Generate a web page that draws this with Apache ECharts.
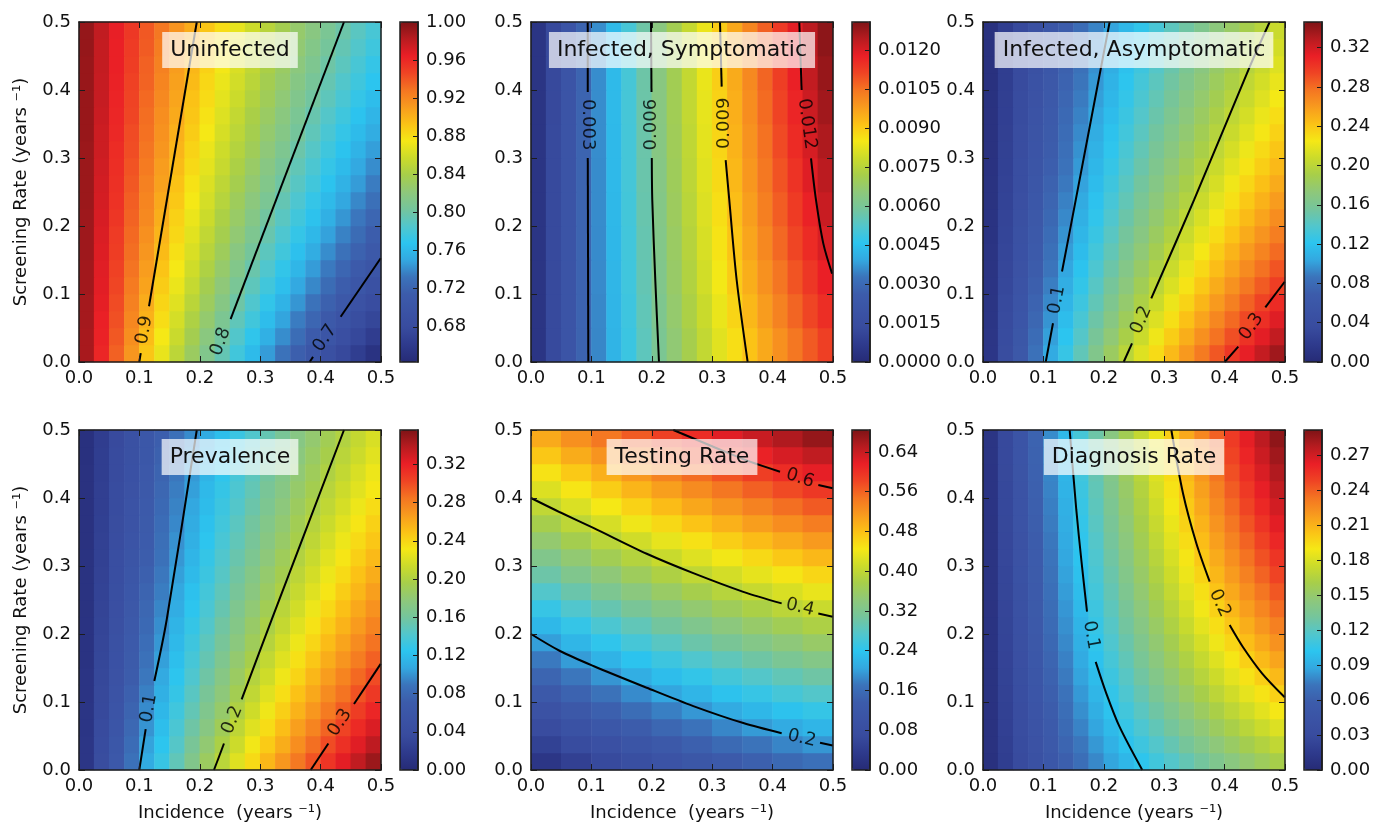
<!DOCTYPE html>
<html>
<head>
<meta charset="utf-8">
<script src="https://cdn.jsdelivr.net/npm/echarts@6/dist/echarts.min.js"></script>
<style>
html, body { margin: 0; padding: 0; background: #ffffff; }
#chart { width: 1373px; height: 825px; }
</style>
</head>
<body>
<div id="chart"></div>
<script>
// Steady-state outputs over incidence (x) and screening rate (y), both in years^-1.
// Each grid is a list of rows, lowest screening rate first; cells are equal-width bands over 0..0.5.

const uninfected = [
  [0.987,0.961,0.936,0.913,0.891,0.870,0.850,0.831,0.812,0.795,0.778,0.762,0.746,0.731,0.717,0.703,0.690,0.677,0.665,0.653],
  [0.987,0.963,0.939,0.917,0.895,0.875,0.856,0.837,0.819,0.802,0.786,0.770,0.755,0.741,0.727,0.713,0.700,0.688,0.676,0.664],
  [0.988,0.964,0.942,0.920,0.900,0.880,0.861,0.843,0.826,0.809,0.793,0.778,0.763,0.749,0.735,0.722,0.709,0.697,0.685,0.674],
  [0.988,0.966,0.944,0.923,0.903,0.884,0.866,0.849,0.832,0.816,0.800,0.785,0.771,0.757,0.744,0.731,0.718,0.706,0.694,0.683],
  [0.989,0.967,0.946,0.926,0.907,0.888,0.871,0.854,0.837,0.822,0.807,0.792,0.778,0.764,0.751,0.739,0.726,0.715,0.703,0.692],
  [0.989,0.968,0.948,0.929,0.910,0.892,0.875,0.859,0.843,0.827,0.813,0.798,0.785,0.771,0.759,0.746,0.734,0.722,0.711,0.700],
  [0.990,0.969,0.950,0.931,0.913,0.896,0.879,0.863,0.848,0.833,0.818,0.804,0.791,0.778,0.765,0.753,0.741,0.730,0.719,0.708],
  [0.990,0.970,0.951,0.933,0.916,0.899,0.883,0.867,0.852,0.838,0.824,0.810,0.797,0.784,0.772,0.760,0.748,0.737,0.726,0.715],
  [0.990,0.971,0.953,0.935,0.919,0.902,0.886,0.871,0.857,0.842,0.829,0.815,0.802,0.790,0.778,0.766,0.755,0.744,0.733,0.722],
  [0.991,0.972,0.955,0.937,0.921,0.905,0.890,0.875,0.861,0.847,0.833,0.820,0.808,0.795,0.784,0.772,0.761,0.750,0.739,0.729],
  [0.991,0.973,0.956,0.939,0.923,0.908,0.893,0.878,0.864,0.851,0.838,0.825,0.813,0.801,0.789,0.778,0.767,0.756,0.746,0.735],
  [0.991,0.974,0.957,0.941,0.926,0.910,0.896,0.882,0.868,0.855,0.842,0.829,0.817,0.806,0.794,0.783,0.772,0.762,0.751,0.741],
  [0.991,0.975,0.958,0.943,0.928,0.913,0.899,0.885,0.871,0.858,0.846,0.834,0.822,0.810,0.799,0.788,0.777,0.767,0.757,0.747],
  [0.992,0.975,0.960,0.944,0.930,0.915,0.901,0.888,0.875,0.862,0.850,0.838,0.826,0.815,0.804,0.793,0.782,0.772,0.762,0.753],
  [0.992,0.976,0.961,0.946,0.931,0.917,0.904,0.891,0.878,0.865,0.853,0.841,0.830,0.819,0.808,0.797,0.787,0.777,0.767,0.758],
  [0.992,0.977,0.962,0.947,0.933,0.919,0.906,0.893,0.881,0.868,0.857,0.845,0.834,0.823,0.812,0.802,0.792,0.782,0.772,0.763],
  [0.992,0.977,0.963,0.948,0.935,0.921,0.908,0.896,0.883,0.871,0.860,0.849,0.837,0.827,0.816,0.806,0.796,0.786,0.777,0.768],
  [0.992,0.978,0.964,0.950,0.936,0.923,0.910,0.898,0.886,0.874,0.863,0.852,0.841,0.830,0.820,0.810,0.800,0.791,0.781,0.772],
  [0.993,0.978,0.964,0.951,0.938,0.925,0.913,0.900,0.889,0.877,0.866,0.855,0.844,0.834,0.824,0.814,0.804,0.795,0.786,0.777],
  [0.993,0.979,0.965,0.952,0.939,0.927,0.914,0.903,0.891,0.880,0.869,0.858,0.848,0.837,0.827,0.818,0.808,0.799,0.790,0.781]
];

const symptomatic = [
  [0.00043,0.00126,0.00205,0.0028,0.00351,0.00419,0.00484,0.00546,0.00606,0.00663,0.00717,0.0077,0.0082,0.00868,0.00915,0.00959,0.01002,0.01044,0.01084,0.01122],
  [0.00043,0.00126,0.00205,0.00281,0.00353,0.00423,0.00489,0.00553,0.00614,0.00673,0.00729,0.00783,0.00835,0.00886,0.00934,0.00981,0.01026,0.0107,0.01112,0.01153],
  [0.00043,0.00126,0.00206,0.00282,0.00355,0.00425,0.00493,0.00558,0.0062,0.00681,0.00739,0.00795,0.00849,0.00901,0.00951,0.01,0.01047,0.01092,0.01137,0.01179],
  [0.00043,0.00126,0.00206,0.00283,0.00357,0.00428,0.00496,0.00562,0.00626,0.00687,0.00747,0.00804,0.0086,0.00913,0.00965,0.01016,0.01065,0.01112,0.01158,0.01202],
  [0.00043,0.00126,0.00206,0.00283,0.00358,0.00429,0.00499,0.00566,0.0063,0.00693,0.00754,0.00812,0.00869,0.00924,0.00978,0.0103,0.0108,0.01129,0.01176,0.01223],
  [0.00043,0.00126,0.00206,0.00283,0.00358,0.00431,0.00501,0.00569,0.00634,0.00698,0.0076,0.00819,0.00877,0.00934,0.00989,0.01042,0.01093,0.01144,0.01193,0.0124],
  [0.00043,0.00126,0.00206,0.00284,0.00359,0.00432,0.00502,0.00571,0.00637,0.00702,0.00764,0.00825,0.00884,0.00942,0.00998,0.01052,0.01105,0.01157,0.01207,0.01256],
  [0.00042,0.00125,0.00206,0.00284,0.00359,0.00433,0.00504,0.00573,0.0064,0.00705,0.00769,0.0083,0.0089,0.00949,0.01006,0.01061,0.01115,0.01168,0.0122,0.0127],
  [0.00042,0.00125,0.00206,0.00284,0.00359,0.00433,0.00505,0.00574,0.00642,0.00708,0.00772,0.00835,0.00896,0.00955,0.01013,0.01069,0.01124,0.01178,0.01231,0.01282],
  [0.00042,0.00125,0.00205,0.00283,0.0036,0.00433,0.00505,0.00576,0.00644,0.0071,0.00775,0.00838,0.009,0.0096,0.01019,0.01076,0.01132,0.01187,0.0124,0.01293]
];

const asymptomatic = [
  [0.0130,0.0380,0.0617,0.0843,0.1057,0.1261,0.1456,0.1642,0.1820,0.1990,0.2153,0.2310,0.2459,0.2603,0.2742,0.2875,0.3003,0.3126,0.3245,0.3359],
  [0.0124,0.0363,0.0590,0.0806,0.1012,0.1209,0.1397,0.1577,0.1749,0.1914,0.2072,0.2225,0.2371,0.2511,0.2646,0.2776,0.2902,0.3023,0.3139,0.3252],
  [0.0118,0.0347,0.0565,0.0772,0.0971,0.1161,0.1342,0.1516,0.1683,0.1844,0.1998,0.2146,0.2288,0.2425,0.2557,0.2684,0.2807,0.2926,0.3041,0.3151],
  [0.0113,0.0332,0.0541,0.0741,0.0933,0.1116,0.1292,0.1460,0.1622,0.1778,0.1928,0.2072,0.2211,0.2345,0.2474,0.2598,0.2719,0.2835,0.2948,0.3056],
  [0.0109,0.0319,0.0520,0.0713,0.0897,0.1075,0.1245,0.1408,0.1566,0.1717,0.1863,0.2003,0.2139,0.2270,0.2396,0.2518,0.2636,0.2750,0.2860,0.2967],
  [0.0104,0.0307,0.0500,0.0686,0.0865,0.1036,0.1201,0.1360,0.1513,0.1660,0.1802,0.1939,0.2071,0.2199,0.2322,0.2442,0.2557,0.2669,0.2778,0.2883],
  [0.0100,0.0295,0.0482,0.0662,0.0834,0.1001,0.1160,0.1315,0.1463,0.1606,0.1745,0.1879,0.2008,0.2133,0.2254,0.2371,0.2484,0.2594,0.2700,0.2804],
  [0.0097,0.0285,0.0465,0.0639,0.0806,0.0967,0.1122,0.1272,0.1417,0.1556,0.1691,0.1822,0.1948,0.2070,0.2189,0.2303,0.2414,0.2522,0.2627,0.2728],
  [0.0093,0.0275,0.0449,0.0618,0.0780,0.0936,0.1087,0.1232,0.1373,0.1509,0.1641,0.1768,0.1892,0.2011,0.2127,0.2239,0.2349,0.2454,0.2557,0.2657],
  [0.0090,0.0266,0.0435,0.0598,0.0755,0.0907,0.1053,0.1195,0.1332,0.1465,0.1594,0.1718,0.1839,0.1956,0.2069,0.2179,0.2286,0.2390,0.2491,0.2589],
  [0.0087,0.0257,0.0421,0.0579,0.0732,0.0879,0.1022,0.1160,0.1294,0.1423,0.1549,0.1671,0.1789,0.1903,0.2014,0.2122,0.2227,0.2329,0.2429,0.2525],
  [0.0084,0.0249,0.0408,0.0561,0.0710,0.0853,0.0992,0.1127,0.1257,0.1384,0.1507,0.1626,0.1741,0.1853,0.1962,0.2068,0.2171,0.2272,0.2369,0.2464],
  [0.0082,0.0241,0.0396,0.0545,0.0689,0.0829,0.0964,0.1096,0.1223,0.1347,0.1466,0.1583,0.1696,0.1806,0.1913,0.2017,0.2118,0.2216,0.2312,0.2406],
  [0.0079,0.0234,0.0384,0.0529,0.0670,0.0806,0.0938,0.1066,0.1191,0.1311,0.1429,0.1542,0.1653,0.1761,0.1866,0.1968,0.2067,0.2164,0.2258,0.2350],
  [0.0077,0.0228,0.0373,0.0514,0.0651,0.0784,0.0913,0.1038,0.1160,0.1278,0.1392,0.1504,0.1613,0.1718,0.1821,0.1921,0.2019,0.2114,0.2207,0.2297],
  [0.0075,0.0221,0.0363,0.0501,0.0634,0.0764,0.0889,0.1012,0.1130,0.1246,0.1358,0.1467,0.1574,0.1678,0.1778,0.1877,0.1973,0.2066,0.2157,0.2246],
  [0.0073,0.0215,0.0353,0.0487,0.0618,0.0744,0.0867,0.0986,0.1103,0.1216,0.1326,0.1433,0.1537,0.1639,0.1738,0.1834,0.1929,0.2021,0.2110,0.2198],
  [0.0071,0.0210,0.0344,0.0475,0.0602,0.0725,0.0845,0.0962,0.1076,0.1187,0.1294,0.1399,0.1502,0.1601,0.1699,0.1794,0.1886,0.1977,0.2065,0.2151],
  [0.0069,0.0204,0.0335,0.0463,0.0587,0.0708,0.0825,0.0939,0.1051,0.1159,0.1265,0.1368,0.1468,0.1566,0.1662,0.1755,0.1846,0.1935,0.2022,0.2107],
  [0.0067,0.0199,0.0327,0.0452,0.0573,0.0691,0.0806,0.0918,0.1027,0.1133,0.1236,0.1337,0.1436,0.1532,0.1626,0.1718,0.1807,0.1895,0.1980,0.2064]
];

const prevalence = [
  [0.013,0.039,0.064,0.087,0.109,0.130,0.150,0.169,0.188,0.205,0.222,0.238,0.254,0.269,0.283,0.297,0.310,0.323,0.335,0.347],
  [0.013,0.037,0.061,0.083,0.105,0.125,0.144,0.163,0.181,0.198,0.214,0.230,0.245,0.259,0.273,0.287,0.300,0.312,0.324,0.336],
  [0.012,0.036,0.058,0.080,0.100,0.120,0.139,0.157,0.174,0.191,0.207,0.222,0.237,0.251,0.265,0.278,0.291,0.303,0.315,0.326],
  [0.012,0.034,0.056,0.077,0.097,0.116,0.134,0.151,0.168,0.184,0.200,0.215,0.229,0.243,0.256,0.269,0.282,0.294,0.306,0.317],
  [0.011,0.033,0.054,0.074,0.093,0.112,0.129,0.146,0.163,0.178,0.193,0.208,0.222,0.236,0.249,0.261,0.274,0.285,0.297,0.308],
  [0.011,0.032,0.052,0.071,0.090,0.108,0.125,0.141,0.157,0.173,0.187,0.202,0.215,0.229,0.241,0.254,0.266,0.278,0.289,0.300],
  [0.010,0.031,0.050,0.069,0.087,0.104,0.121,0.137,0.152,0.167,0.182,0.196,0.209,0.222,0.235,0.247,0.259,0.270,0.281,0.292],
  [0.010,0.030,0.049,0.067,0.084,0.101,0.117,0.133,0.148,0.162,0.176,0.190,0.203,0.216,0.228,0.240,0.252,0.263,0.274,0.285],
  [0.010,0.029,0.047,0.065,0.081,0.098,0.114,0.129,0.143,0.158,0.171,0.185,0.198,0.210,0.222,0.234,0.245,0.256,0.267,0.278],
  [0.009,0.028,0.045,0.063,0.079,0.095,0.110,0.125,0.139,0.153,0.167,0.180,0.192,0.205,0.216,0.228,0.239,0.250,0.261,0.271],
  [0.009,0.027,0.044,0.061,0.077,0.092,0.107,0.122,0.136,0.149,0.162,0.175,0.187,0.199,0.211,0.222,0.233,0.244,0.254,0.265],
  [0.009,0.026,0.043,0.059,0.074,0.090,0.104,0.118,0.132,0.145,0.158,0.171,0.183,0.194,0.206,0.217,0.228,0.238,0.249,0.259],
  [0.009,0.025,0.042,0.057,0.072,0.087,0.101,0.115,0.129,0.142,0.154,0.166,0.178,0.190,0.201,0.212,0.223,0.233,0.243,0.253],
  [0.008,0.025,0.040,0.056,0.070,0.085,0.099,0.112,0.125,0.138,0.150,0.162,0.174,0.185,0.196,0.207,0.218,0.228,0.238,0.247],
  [0.008,0.024,0.039,0.054,0.069,0.083,0.096,0.109,0.122,0.135,0.147,0.159,0.170,0.181,0.192,0.203,0.213,0.223,0.233,0.242],
  [0.008,0.023,0.038,0.053,0.067,0.081,0.094,0.107,0.119,0.132,0.143,0.155,0.166,0.177,0.188,0.198,0.208,0.218,0.228,0.237],
  [0.008,0.023,0.037,0.052,0.065,0.079,0.092,0.104,0.117,0.129,0.140,0.151,0.163,0.173,0.184,0.194,0.204,0.214,0.223,0.232],
  [0.008,0.022,0.036,0.050,0.064,0.077,0.090,0.102,0.114,0.126,0.137,0.148,0.159,0.170,0.180,0.190,0.200,0.209,0.219,0.228],
  [0.007,0.022,0.036,0.049,0.062,0.075,0.087,0.100,0.111,0.123,0.134,0.145,0.156,0.166,0.176,0.186,0.196,0.205,0.214,0.223],
  [0.007,0.021,0.035,0.048,0.061,0.073,0.086,0.097,0.109,0.120,0.131,0.142,0.152,0.163,0.173,0.182,0.192,0.201,0.210,0.219]
];

// Testing rate is sampled more finely along the screening axis (20 rows x 10 columns).
const testingRate = [
  [0.0244,0.0465,0.0664,0.0845,0.1011,0.1162,0.1301,0.1430,0.1549,0.1659],
  [0.0494,0.0716,0.0917,0.1101,0.1269,0.1423,0.1566,0.1698,0.1820,0.1934],
  [0.0745,0.0967,0.1170,0.1356,0.1526,0.1684,0.1829,0.1964,0.2090,0.2207],
  [0.0995,0.1218,0.1422,0.1610,0.1783,0.1943,0.2091,0.2229,0.2358,0.2478],
  [0.1245,0.1469,0.1675,0.1864,0.2040,0.2202,0.2353,0.2494,0.2625,0.2748],
  [0.1495,0.1720,0.1927,0.2118,0.2296,0.2460,0.2614,0.2757,0.2892,0.3017],
  [0.1745,0.1971,0.2179,0.2372,0.2551,0.2718,0.2874,0.3020,0.3157,0.3285],
  [0.1995,0.2221,0.2431,0.2625,0.2807,0.2976,0.3134,0.3282,0.3421,0.3552],
  [0.2245,0.2472,0.2683,0.2879,0.3062,0.3233,0.3393,0.3543,0.3685,0.3819],
  [0.2495,0.2723,0.2934,0.3132,0.3316,0.3489,0.3651,0.3804,0.3948,0.4084],
  [0.2745,0.2973,0.3186,0.3384,0.3571,0.3745,0.3909,0.4064,0.4210,0.4348],
  [0.2995,0.3224,0.3437,0.3637,0.3825,0.4001,0.4167,0.4324,0.4472,0.4612],
  [0.3245,0.3474,0.3689,0.3890,0.4079,0.4257,0.4424,0.4583,0.4733,0.4876],
  [0.3496,0.3725,0.3940,0.4142,0.4332,0.4512,0.4681,0.4842,0.4994,0.5138],
  [0.3746,0.3975,0.4191,0.4394,0.4586,0.4767,0.4938,0.5100,0.5254,0.5400],
  [0.3996,0.4226,0.4442,0.4646,0.4839,0.5022,0.5194,0.5358,0.5513,0.5662],
  [0.4246,0.4476,0.4693,0.4899,0.5092,0.5276,0.5450,0.5616,0.5773,0.5922],
  [0.4496,0.4727,0.4944,0.5150,0.5345,0.5530,0.5706,0.5873,0.6032,0.6183],
  [0.4746,0.4977,0.5195,0.5402,0.5598,0.5784,0.5961,0.6130,0.6290,0.6443],
  [0.4996,0.5227,0.5446,0.5654,0.5851,0.6038,0.6217,0.6386,0.6548,0.6703]
];

const diagnosisRate = [
  [0.0062,0.0181,0.0294,0.0402,0.0504,0.0602,0.0695,0.0784,0.0868,0.0950,0.1027,0.1102,0.1173,0.1242,0.1308,0.1371,0.1433,0.1491,0.1548,0.1603],
  [0.0065,0.0190,0.0310,0.0423,0.0532,0.0635,0.0734,0.0828,0.0919,0.1005,0.1088,0.1168,0.1245,0.1319,0.1390,0.1458,0.1524,0.1587,0.1649,0.1708],
  [0.0068,0.0199,0.0324,0.0443,0.0557,0.0665,0.0770,0.0869,0.0965,0.1057,0.1145,0.1230,0.1312,0.1390,0.1466,0.1539,0.1609,0.1677,0.1743,0.1807],
  [0.0070,0.0206,0.0336,0.0461,0.0580,0.0693,0.0803,0.0907,0.1008,0.1105,0.1198,0.1287,0.1374,0.1457,0.1537,0.1615,0.1690,0.1762,0.1832,0.1899],
  [0.0073,0.0214,0.0348,0.0477,0.0601,0.0719,0.0833,0.0943,0.1048,0.1149,0.1247,0.1341,0.1432,0.1519,0.1604,0.1686,0.1765,0.1841,0.1915,0.1987],
  [0.0075,0.0220,0.0359,0.0493,0.0621,0.0744,0.0862,0.0976,0.1085,0.1191,0.1293,0.1391,0.1486,0.1578,0.1667,0.1752,0.1835,0.1916,0.1994,0.2069],
  [0.0077,0.0226,0.0369,0.0507,0.0639,0.0766,0.0889,0.1007,0.1120,0.1230,0.1336,0.1438,0.1537,0.1633,0.1726,0.1815,0.1902,0.1986,0.2068,0.2147],
  [0.0079,0.0232,0.0379,0.0520,0.0656,0.0787,0.0913,0.1035,0.1153,0.1267,0.1376,0.1483,0.1585,0.1685,0.1781,0.1874,0.1965,0.2053,0.2138,0.2221],
  [0.0080,0.0237,0.0387,0.0532,0.0672,0.0807,0.0937,0.1062,0.1184,0.1301,0.1414,0.1524,0.1631,0.1734,0.1834,0.1931,0.2024,0.2116,0.2204,0.2290],
  [0.0082,0.0242,0.0396,0.0544,0.0687,0.0825,0.0959,0.1088,0.1213,0.1333,0.1450,0.1564,0.1673,0.1780,0.1883,0.1983,0.2081,0.2175,0.2267,0.2357],
  [0.0084,0.0246,0.0403,0.0555,0.0701,0.0842,0.0979,0.1112,0.1240,0.1364,0.1484,0.1601,0.1714,0.1824,0.1930,0.2034,0.2134,0.2232,0.2327,0.2420],
  [0.0085,0.0251,0.0410,0.0565,0.0714,0.0859,0.0999,0.1134,0.1265,0.1393,0.1516,0.1636,0.1752,0.1865,0.1975,0.2081,0.2185,0.2286,0.2384,0.2480],
  [0.0086,0.0255,0.0417,0.0574,0.0727,0.0874,0.1017,0.1155,0.1290,0.1420,0.1546,0.1669,0.1788,0.1904,0.2017,0.2127,0.2233,0.2337,0.2438,0.2537],
  [0.0088,0.0258,0.0424,0.0583,0.0738,0.0889,0.1034,0.1176,0.1313,0.1446,0.1575,0.1701,0.1823,0.1942,0.2057,0.2170,0.2279,0.2386,0.2490,0.2591],
  [0.0089,0.0262,0.0430,0.0592,0.0750,0.0902,0.1051,0.1195,0.1334,0.1470,0.1602,0.1731,0.1856,0.1977,0.2095,0.2211,0.2323,0.2432,0.2539,0.2643],
  [0.0090,0.0265,0.0435,0.0600,0.0760,0.0915,0.1066,0.1213,0.1355,0.1493,0.1628,0.1759,0.1887,0.2011,0.2132,0.2250,0.2365,0.2477,0.2586,0.2693],
  [0.0091,0.0268,0.0441,0.0608,0.0770,0.0928,0.1081,0.1230,0.1375,0.1516,0.1653,0.1786,0.1916,0.2043,0.2167,0.2287,0.2405,0.2519,0.2631,0.2740],
  [0.0092,0.0271,0.0446,0.0615,0.0779,0.0939,0.1095,0.1246,0.1393,0.1537,0.1676,0.1812,0.1945,0.2074,0.2200,0.2323,0.2443,0.2560,0.2674,0.2786],
  [0.0093,0.0274,0.0450,0.0622,0.0788,0.0950,0.1108,0.1262,0.1411,0.1557,0.1699,0.1837,0.1972,0.2103,0.2232,0.2357,0.2479,0.2599,0.2715,0.2829],
  [0.0094,0.0277,0.0455,0.0628,0.0797,0.0961,0.1121,0.1277,0.1428,0.1576,0.1720,0.1861,0.1998,0.2132,0.2262,0.2390,0.2514,0.2636,0.2755,0.2871]
];

// Colour-bar ranges and tick values.
const uninfectedRange = [0.643, 1.0];
const symptomaticRange = [0, 0.0131];
const asymptomaticRange = [0, 0.346];
const prevalenceRange = [0, 0.356];
const testingRange = [0, 0.684];
const diagnosisRange = [0, 0.2914];

const uninfectedTicks = [0.68, 0.72, 0.76, 0.80, 0.84, 0.88, 0.92, 0.96, 1.00];
const symptomaticTicks = [0, 0.0015, 0.003, 0.0045, 0.006, 0.0075, 0.009, 0.0105, 0.012];
const asymptomaticTicks = [0, 0.04, 0.08, 0.12, 0.16, 0.20, 0.24, 0.28, 0.32];
const prevalenceTicks = [0, 0.04, 0.08, 0.12, 0.16, 0.20, 0.24, 0.28, 0.32];
const testingTicks = [0, 0.08, 0.16, 0.24, 0.32, 0.40, 0.48, 0.56, 0.64];
const diagnosisTicks = [0, 0.03, 0.06, 0.09, 0.12, 0.15, 0.18, 0.21, 0.24, 0.27];

// Contour lines: paths in data coordinates (null = break where the inline label sits).
const uninfectedContours = [
  { level: '0.9', path: [[0.0998,0],[0.1022,0.013],null,[0.1159,0.082],[0.195,0.5]], at: [0.1082,0.047] },
  { level: '0.8', path: [[0.251,0.063],[0.4387,0.5]], at: [0.2346,0.030] },
  { level: '0.7', path: [[0.3818,0],[0.3875,0.0075],null,[0.4332,0.0666],[0.4995,0.1525]], at: [0.4073,0.0348] }
];
const symptomaticContours = [
  { level: '0.003', path: [[0.0949,0],[0.0940,0.300],null,[0.0940,0.397],[0.0939,0.5]], at: [0.0941,0.349] },
  { level: '0.006', path: [[0.2119,0],[0.2058,0.12],[0.2008,0.238],[0.2000,0.300],null,[0.1995,0.397],[0.1987,0.5]], at: [0.1998,0.349] },
  { level: '0.009', path: [[0.3129,0.5],[0.3157,0.405],null,[0.3223,0.297],[0.3283,0.238],[0.3405,0.1206],[0.3587,0]], at: [0.3205,0.351] },
  { level: '0.012', path: [[0.4442,0.5],[0.4481,0.4],null,[0.4636,0.2995],[0.4719,0.238],[0.4839,0.1745],[0.4985,0.13]], at: [0.4568,0.350] }
];
const asymptomaticContours = [
  { level: '0.1', path: [[0.1038,0],[0.1159,0.057],null,[0.1308,0.133],[0.1535,0.238],[0.2097,0.5]], at: [0.1225,0.0912] },
  { level: '0.2', path: [[0.2329,0],[0.2467,0.0275],null,[0.2786,0.0936],[0.3493,0.238],[0.4415,0.434],[0.4746,0.5]], at: [0.2621,0.0618] },
  { level: '0.3', path: [[0.4002,0],[0.4227,0.0225],null,[0.4674,0.0804],[0.4995,0.118]], at: [0.4445,0.052] }
];
const prevalenceContours = [
  { level: '0.1', path: [[0.0998,0],[0.1104,0.06],null,[0.1247,0.131],[0.1452,0.221],[0.195,0.5]], at: [0.1159,0.0907] },
  { level: '0.2', path: [[0.2235,0],[0.24,0.039],null,[0.2693,0.104],[0.319,0.221],[0.4387,0.5]], at: [0.2538,0.0735] },
  { level: '0.3', path: [[0.3836,0],[0.4128,0.039],null,[0.4553,0.097],[0.4995,0.156]], at: [0.4321,0.0696] }
];
const testingContours = [
  { level: '0.2', path: [[0,0.2],[0.048,0.175],[0.1032,0.153],[0.1916,0.121],[0.2687,0.094],[0.3515,0.069],[0.415,0.054],null,[0.4785,0.040],[0.4995,0.036]], at: [0.4482,0.0466] },
  { level: '0.4', path: [[0,0.4],[0.048,0.379],[0.1032,0.356],[0.1916,0.318],[0.2687,0.2895],[0.3515,0.262],[0.415,0.245],null,[0.4757,0.230],[0.4995,0.2255]], at: [0.4454,0.2392] },
  { level: '0.6', path: [[0.2356,0.5],[0.3018,0.4754],[0.3626,0.4534],[0.4123,0.4387],null,[0.4757,0.4191],[0.4995,0.4142]], at: [0.4454,0.4289] }
];
const diagnosisContours = [
  { level: '0.1', path: [[0.1435,0.5],[0.1545,0.3824],[0.1628,0.3088],[0.1722,0.233],null,[0.1866,0.159],[0.2041,0.1128],[0.226,0.0637],[0.2637,0]], at: [0.1790,0.1985] },
  { level: '0.2', path: [[0.3118,0.5],[0.3311,0.4069],[0.3532,0.3334],[0.3753,0.277],null,[0.4084,0.2132],[0.430,0.1813],[0.462,0.1422],[0.4995,0.107]], at: [0.3919,0.2452] }
];

// ---- styling and layout ----
const FONT = 'DejaVu Sans';
const INK = '#111111';
const FRAME = '#1c1c1c';
const JET = ['#262b76','#2e3a8c','#384b9e','#3b53a5','#3c5cab','#3b74bb','#33a8e0','#2cc5ef','#52c6cc','#75c59c',
             '#8ec87a','#a7ce4a','#cbdb2b','#f5e816','#fbc216','#f89b1e','#f47522','#ef4424','#ea1f26','#b81b20','#7e1416'];
const PANEL_LEFT = [79, 531, 983];
const PANEL_TOP = [22, 430];
const PANEL_W = 302, PANEL_H = 340;
const BAR_GAP = 19, BAR_W = 18;

// Inline label rotation (degrees, counter-clockwise) for each contour, in panel order.
const labelRotation = [
  [80, 69, 56],
  [-90, 90, 90, -82],
  [79, 67, 56],
  [80, 68, 57],
  [-13, -14, -18],
  [-80, -65]
];

const panels = [
  { title: 'Uninfected', grid: uninfected, range: uninfectedRange, ticks: uninfectedTicks, digits: 2, contours: uninfectedContours },
  { title: 'Infected, Symptomatic', grid: symptomatic, range: symptomaticRange, ticks: symptomaticTicks, digits: 4, contours: symptomaticContours },
  { title: 'Infected, Asymptomatic', grid: asymptomatic, range: asymptomaticRange, ticks: asymptomaticTicks, digits: 2, contours: asymptomaticContours },
  { title: 'Prevalence', grid: prevalence, range: prevalenceRange, ticks: prevalenceTicks, digits: 2, contours: prevalenceContours },
  { title: 'Testing Rate', grid: testingRate, range: testingRange, ticks: testingTicks, digits: 2, contours: testingContours },
  { title: 'Diagnosis Rate', grid: diagnosisRate, range: diagnosisRange, ticks: diagnosisTicks, digits: 2, contours: diagnosisContours }
];
const xNames = ['Incidence  (years \u207B\u00B9)', 'Incidence  (years \u207B\u00B9)', 'Incidence (years \u207B\u00B9)'];
const yName = 'Screening Rate (years \u207B\u00B9)';

const grid = [], xAxis = [], yAxis = [], series = [], visualMap = [], title = [];
const labelFont = { fontFamily: FONT, fontSize: 18, color: INK };

function frameAxis(extra) {
  return Object.assign({
    type: 'value', min: 0, max: 0.5, interval: 0.1, z: 5,
    axisLine: { show: true, onZero: false, lineStyle: { color: FRAME, width: 1.5 } },
    axisTick: { show: true, inside: true, length: 6, lineStyle: { color: FRAME, width: 1 } },
    splitLine: { show: false },
    axisPointer: { show: false }
  }, extra);
}

panels.forEach((p, k) => {
  const col = k % 3, row = Math.floor(k / 3);
  const left = PANEL_LEFT[col], top = PANEL_TOP[row];
  const barLeft = left + PANEL_W + BAR_GAP;

  const gMain = grid.length;
  grid.push({ left: left, top: top, width: PANEL_W, height: PANEL_H, containLabel: false, outerBoundsMode: 'none' });
  const gBar = grid.length;
  grid.push({ left: barLeft, top: top, width: BAR_W, height: PANEL_H, containLabel: false, outerBoundsMode: 'none',
              show: true, z: 2, backgroundColor: 'rgba(0,0,0,0)', borderColor: FRAME, borderWidth: 1.5 });

  const xi = xAxis.length;
  xAxis.push(frameAxis({
    gridIndex: gMain, position: 'bottom',
    axisLabel: Object.assign({ show: true, margin: 7, formatter: v => v.toFixed(1) }, labelFont),
    name: row === 1 ? xNames[col] : '', nameLocation: 'middle', nameGap: 34,
    nameTextStyle: { fontFamily: FONT, fontSize: 18, color: INK }
  }));
  xAxis.push(frameAxis({ gridIndex: gMain, position: 'top', axisLabel: { show: false } }));
  xAxis.push({ gridIndex: gMain, type: 'category', data: p.grid[0].map((_, i) => i), show: false });
  xAxis.push({ gridIndex: gBar, type: 'value', min: 0, max: 1, show: false });

  const yi = yAxis.length;
  yAxis.push(frameAxis({
    gridIndex: gMain, position: 'left',
    axisLabel: Object.assign({ show: true, margin: 8, formatter: v => v.toFixed(1) }, labelFont),
    name: col === 0 ? yName : '', nameLocation: 'middle', nameGap: 49,
    nameTextStyle: { fontFamily: FONT, fontSize: 18, color: INK }
  }));
  yAxis.push(frameAxis({ gridIndex: gMain, position: 'right', axisLabel: { show: false } }));
  yAxis.push({ gridIndex: gMain, type: 'category', data: p.grid.map((_, j) => j), show: false });
  yAxis.push({
    gridIndex: gBar, type: 'value', min: p.range[0], max: p.range[1], position: 'right', z: 3,
    axisLine: { show: true, onZero: false, lineStyle: { color: FRAME, width: 1.5 } },
    axisTick: { show: true, inside: true, length: 5, customValues: p.ticks, lineStyle: { color: FRAME, width: 1 } },
    axisLabel: Object.assign({ show: true, margin: 8, customValues: p.ticks, formatter: v => v.toFixed(p.digits) }, labelFont),
    splitLine: { show: false }
  });

  // colour field
  const cells = [];
  p.grid.forEach((rowVals, j) => rowVals.forEach((v, i) => cells.push([i, j, v])));
  const heatIndex = series.length;
  series.push({
    type: 'heatmap', xAxisIndex: xi + 2, yAxisIndex: yi + 2, data: cells, z: 1,
    silent: true, progressive: 0, emphasis: { disabled: true }
  });
  visualMap.push({
    type: 'continuous', seriesIndex: heatIndex, dimension: 2,
    min: p.range[0], max: p.range[1], calculable: false, hoverLink: false,
    orient: 'vertical', left: barLeft, top: top, itemWidth: BAR_W, itemHeight: PANEL_H,
    padding: 0, z: 1, inRange: { color: JET }
  });

  // contour lines, split at label gaps
  p.contours.forEach(c => {
    let seg = [];
    const flush = () => {
      if (seg.length > 1) {
        series.push({
          type: 'line', xAxisIndex: xi, yAxisIndex: yi, data: seg, z: 3, silent: true,
          showSymbol: false, symbol: 'none', smooth: 0.3,
          lineStyle: { color: '#000000', width: 2 }
        });
      }
      seg = [];
    };
    c.path.forEach(pt => { if (pt === null) flush(); else seg.push(pt); });
    flush();
  });

  // inline contour labels
  series.push({
    type: 'scatter', xAxisIndex: xi, yAxisIndex: yi, z: 4, silent: true,
    symbol: 'circle', symbolSize: 1, itemStyle: { color: 'rgba(0,0,0,0)' },
    data: p.contours.map((c, n) => ({
      name: c.level, value: c.at,
      label: { rotate: labelRotation[k][n] }
    })),
    label: { show: true, position: 'inside', formatter: '{b}', fontFamily: FONT, fontSize: 18, color: '#000000' }
  });

  title.push({
    text: p.title, left: left + PANEL_W / 2 - 8, top: row === 0 ? 32 : 439, textAlign: 'center',
    padding: [7, 8], backgroundColor: 'rgba(255,255,255,0.7)', z: 8,
    textStyle: { fontFamily: FONT, fontSize: 22, fontWeight: 'normal', color: INK }
  });
});

const chart = echarts.init(document.getElementById('chart'), null, { renderer: 'canvas' });
chart.setOption({
  backgroundColor: '#ffffff',
  animation: false,
  textStyle: { fontFamily: FONT },
  title: title,
  grid: grid,
  xAxis: xAxis,
  yAxis: yAxis,
  visualMap: visualMap,
  series: series
});
</script>
</body>
</html>
